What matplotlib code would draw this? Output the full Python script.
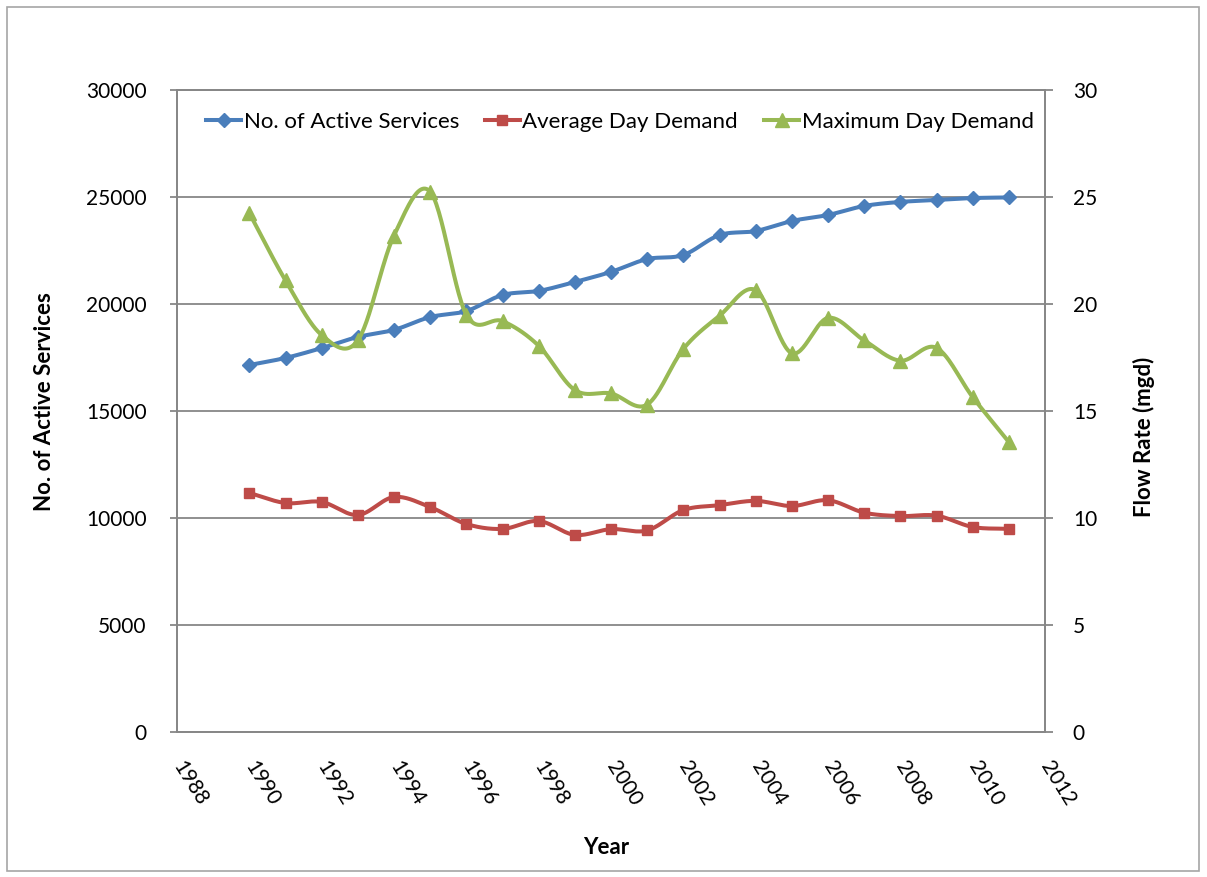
import numpy as np
import matplotlib
matplotlib.use("Agg")
import matplotlib.pyplot as plt
from matplotlib.lines import Line2D
from matplotlib.patches import Rectangle

years = list(range(1990, 2012))
active_services = [17150, 17480, 17940, 18460, 18790, 19390, 19670, 20420, 20610, 21030,
                   21500, 22100, 22290, 23220, 23410, 23880, 24160, 24580, 24770, 24860,
                   24950, 24980]
avg_day_demand = [11.17, 10.70, 10.75, 10.14, 10.98, 10.51, 9.72, 9.49, 9.86, 9.21,
                  9.48, 9.42, 10.37, 10.60, 10.80, 10.56, 10.83, 10.25, 10.09, 10.11,
                  9.58, 9.49]
max_day_demand = [24.25, 21.10, 18.55, 18.30, 23.20, 25.25, 19.50, 19.20, 18.05, 15.98,
                  15.82, 15.30, 17.90, 19.45, 20.65, 17.70, 19.35, 18.30, 17.35, 17.95,
                  15.65, 13.55]
x_ticks = list(range(1988, 2013, 2))
left_ticks = list(range(0, 30001, 5000))
right_ticks = list(range(0, 31, 5))

BLUE = "#4A7EBB"
RED = "#BE4B48"
GREEN = "#98B954"
GRID = "#878787"


def smooth(xs, ys, n=30):
    """Catmull-Rom style smoothing through every point (spreadsheet 'smoothed line')."""
    xs = np.asarray(xs, float)
    ys = np.asarray(ys, float)
    px = np.concatenate([[2 * xs[0] - xs[1]], xs, [2 * xs[-1] - xs[-2]]])
    py = np.concatenate([[2 * ys[0] - ys[1]], ys, [2 * ys[-1] - ys[-2]]])
    outx, outy = [], []
    t = np.linspace(0, 1, n)
    for i in range(1, len(px) - 2):
        p0, p1, p2, p3 = i - 1, i, i + 1, i + 2
        c1x = px[p1] + (px[p2] - px[p0]) / 6
        c1y = py[p1] + (py[p2] - py[p0]) / 6
        c2x = px[p2] - (px[p3] - px[p1]) / 6
        c2y = py[p2] - (py[p3] - py[p1]) / 6
        bx = ((1 - t) ** 3 * px[p1] + 3 * (1 - t) ** 2 * t * c1x
              + 3 * (1 - t) * t ** 2 * c2x + t ** 3 * px[p2])
        by = ((1 - t) ** 3 * py[p1] + 3 * (1 - t) ** 2 * t * c1y
              + 3 * (1 - t) * t ** 2 * c2y + t ** 3 * py[p2])
        outx.extend(bx)
        outy.extend(by)
    return np.array(outx), np.array(outy)


plt.rcParams["font.family"] = ["Lato", "DejaVu Sans"]

fig = plt.figure(figsize=(12.07, 8.77), dpi=100)
fig.patches.append(Rectangle((7 / 1207, 6 / 877), 1192 / 1207, 864 / 877,
                             transform=fig.transFigure, fill=False,
                             edgecolor="#A6A6A6", lw=1.2))

ax = fig.add_axes([177 / 1207, 1 - 732 / 877, 868 / 1207, 642 / 877])
ax2 = ax.twinx()

LW = 2.9
# Left axis: number of active services
sx, sy = smooth(years, active_services)
ax.plot(sx, sy, color=BLUE, lw=LW, solid_capstyle="round", zorder=3)
ax.plot(years, active_services, ls="none", marker="D", ms=7.5, color=BLUE, zorder=4)

# Right axis: flow rates
rx, ry = smooth(years, avg_day_demand)
ax2.plot(rx, ry, color=RED, lw=LW, solid_capstyle="round", zorder=3)
ax2.plot(years, avg_day_demand, ls="none", marker="s", ms=7, color=RED, zorder=4)
gx, gy = smooth(years, max_day_demand)
ax2.plot(gx, gy, color=GREEN, lw=LW, solid_capstyle="round", zorder=5)
ax2.plot(years, max_day_demand, ls="none", marker="^", ms=9.5, color=GREEN, zorder=6)

ax.set_xlim(1988, 2012)
ax.set_ylim(0, 30000)
ax2.set_ylim(0, 30)
ax.set_xticks(x_ticks)
ax.set_xticklabels([str(v) for v in x_ticks], fontsize=15, rotation=-58,
                   rotation_mode="anchor", ha="left", va="center")
ax.set_yticks(left_ticks)
ax.set_yticklabels([str(v) for v in left_ticks], fontsize=15)
ax2.set_yticks(right_ticks)
ax2.set_yticklabels([str(v) for v in right_ticks], fontsize=15)

ax.yaxis.grid(True, color=GRID, lw=1.3)
ax.set_axisbelow(True)
for a in (ax, ax2):
    for s in a.spines.values():
        s.set_color(GRID)
        s.set_linewidth(1.3)
ax.tick_params(axis="x", length=0, pad=22, colors="black")
ax.tick_params(axis="y", length=5, width=1.3, color=GRID, pad=17)
ax2.tick_params(axis="y", length=6, width=1.3, color=GRID, pad=14)

ax.set_xlabel("Year", fontsize=16, fontweight="bold")
ax.xaxis.set_label_coords(0.495, -0.164)
ax.set_ylabel("No. of Active Services", fontsize=16, fontweight="bold")
ax.yaxis.set_label_coords(-0.141, 0.515)
ax2.set_ylabel("Flow Rate (mgd)", fontsize=16, fontweight="bold")
ax2.yaxis.set_label_coords(1.101, 0.459)

handles = [
    Line2D([], [], color=BLUE, lw=LW, marker="D", ms=7.5),
    Line2D([], [], color=RED, lw=LW, marker="s", ms=7),
    Line2D([], [], color=GREEN, lw=LW, marker="^", ms=9.5),
]
labels = ["No. of Active Services", "Average Day Demand", "Maximum Day Demand"]
leg = ax2.legend(handles, labels, loc="upper center", ncol=3, frameon=False,
                 fontsize=16, handlelength=1.6, handletextpad=0.1, columnspacing=1.16,
                 bbox_to_anchor=(0.51, 1.0), borderaxespad=0.6)

fig.savefig("out.png", dpi=100)
